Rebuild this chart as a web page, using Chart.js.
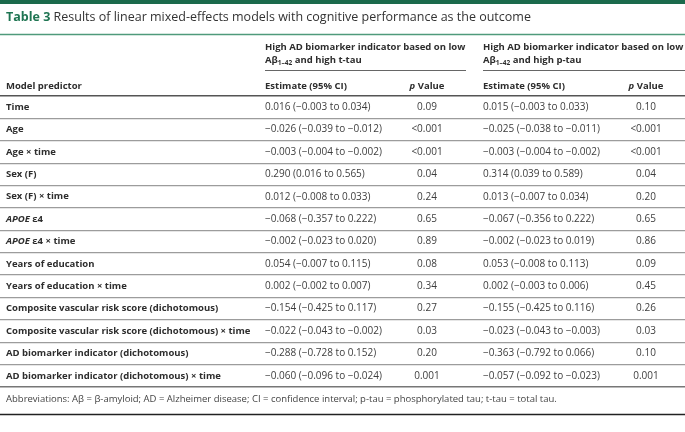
<!DOCTYPE html>
<html><head><meta charset="utf-8">
<script src="https://cdn.jsdelivr.net/npm/chart.js@4.4.0/dist/chart.umd.min.js"></script>
<style>html,body{margin:0;padding:0;background:#fff;}canvas{display:block;}</style>
</head><body>
<canvas id="c" width="685" height="432"></canvas>
<script>
// ---- data ----
const predictors = ["Time","Age","Age × time","Sex (F)","Sex (F) × time","APOE ε4","APOE ε4 × time",
  "Years of education","Years of education × time","Composite vascular risk score (dichotomous)",
  "Composite vascular risk score (dichotomous) × time","AD biomarker indicator (dichotomous)",
  "AD biomarker indicator (dichotomous) × time"];
const est1 = [0.016,-0.026,-0.003,0.290,0.012,-0.068,-0.002,0.054,0.002,-0.154,-0.022,-0.288,-0.060];
const lo1  = [-0.003,-0.039,-0.004,0.016,-0.008,-0.357,-0.023,-0.007,-0.002,-0.425,-0.043,-0.728,-0.096];
const hi1  = [0.034,-0.012,-0.002,0.565,0.033,0.222,0.020,0.115,0.007,0.117,-0.002,0.152,-0.024];
const p1   = ["0.09","<0.001","<0.001","0.04","0.24","0.65","0.89","0.08","0.34","0.27","0.03","0.20","0.001"];
const est2 = [0.015,-0.025,-0.003,0.314,0.013,-0.067,-0.002,0.053,0.002,-0.155,-0.023,-0.363,-0.057];
const lo2  = [-0.003,-0.038,-0.004,0.039,-0.007,-0.356,-0.023,-0.008,-0.003,-0.425,-0.043,-0.792,-0.092];
const hi2  = [0.033,-0.011,-0.002,0.589,0.034,0.222,0.019,0.113,0.006,0.116,-0.003,0.066,-0.023];
const p2   = ["0.10","<0.001","<0.001","0.04","0.20","0.65","0.86","0.09","0.45","0.26","0.03","0.10","0.001"];

const titleBold = "Table 3";
const titleText = " Results of linear mixed-effects models with cognitive performance as the outcome";
const group1 = ["High AD biomarker indicator based on low", "and high t-tau"];
const group2 = ["High AD biomarker indicator based on low", "and high p-tau"];
const colHeads = ["Model predictor", "Estimate (95% CI)", "Value"];
const footnote = "Abbreviations: Aβ = β-amyloid; AD = Alzheimer disease; CI = confidence interval; p-tau = phosphorylated tau; t-tau = total tau.";

// ---- styles / layout ----
const FF = '"Open Sans", sans-serif';
const TXT = '#2d2d2d';
const VAL = '#3d3d3d';
const GREEN = '#1f7552';
const colX = { pred: 6, est1: 265, p1c: 427, est2: 483, p2c: 646 };

function fmt(v){ return (v < 0 ? '\u2212' : '') + Math.abs(v).toFixed(3); }
function ci(e,l,h){ return fmt(e) + ' (' + fmt(l) + ' to ' + fmt(h) + ')'; }

function drawRuns(ctx, runs, x, y){
  let cx = x;
  for (const r of runs){
    ctx.font = r.f; ctx.fillStyle = r.c || TXT;
    ctx.fillText(r.t, cx, y + (r.dy || 0));
    cx += ctx.measureText(r.t).width;
  }
  return cx;
}
function runsWidth(ctx, runs){
  let w = 0; for (const r of runs){ ctx.font = r.f; w += ctx.measureText(r.t).width; } return w;
}
const B = 'bold 9.5px ' + FF;
const BI = 'italic bold 9.5px ' + FF;
const R = '10px ' + FF;

function predRuns(label){
  if (label.startsWith('APOE')) return [{t:'APOE', f:BI}, {t:label.slice(4), f:B}];
  return [{t:label, f:B}];
}

const tablePlugin = {
  id: 'tableText',
  beforeDraw(chart){
    const ctx = chart.ctx; ctx.save(); ctx.fillStyle = '#fff';
    ctx.fillRect(0,0,chart.width,chart.height); ctx.restore();
  },
  afterDraw(chart){
    const ctx = chart.ctx, xs = chart.scales.x, ys = chart.scales.y;
    const W = chart.width, bottom = chart.chartArea.bottom;
    const X = v => xs.getPixelForValue(v);
    ctx.save();
    ctx.textBaseline = 'middle'; ctx.textAlign = 'left';

    // top green bar
    ctx.fillStyle = '#1b6a4c'; ctx.fillRect(0, 0, W, 4);
    // title
    drawRuns(ctx, [{t:titleBold, f:'bold 12.5px ' + FF, c:GREEN}, {t:titleText, f:'12.5px ' + FF, c:'#333'}], X(colX.pred), 17);
    // title rule
    ctx.strokeStyle = '#4f9a7b'; ctx.lineWidth = 1.5;
    ctx.beginPath(); ctx.moveTo(0, 34.5); ctx.lineTo(W, 34.5); ctx.stroke();

    // group headers
    const sub = 'bold 6.5px ' + FF;
    [[group1, colX.est1, 466], [group2, colX.est2, W]].forEach(([g, x0, x1]) => {
      drawRuns(ctx, [{t:g[0], f:B}], X(x0), 47);
      drawRuns(ctx, [{t:'Aβ', f:B}, {t:'1–42', f:sub, dy:2.5}, {t:' ' + g[1], f:B}], X(x0), 60.5);
      ctx.strokeStyle = '#666'; ctx.lineWidth = 1;
      ctx.beginPath(); ctx.moveTo(X(x0), 70.5); ctx.lineTo(X(x1), 70.5); ctx.stroke();
    });

    // column headers
    const hy = 86;
    const pHead = [{t:'p', f:BI}, {t:' ' + colHeads[2], f:B}];
    const pHeadW = runsWidth(ctx, pHead);
    drawRuns(ctx, [{t:colHeads[0], f:B}], X(colX.pred), hy);
    drawRuns(ctx, [{t:colHeads[1], f:B}], X(colX.est1), hy);
    drawRuns(ctx, pHead, X(colX.p1c) - pHeadW / 2, hy);
    drawRuns(ctx, [{t:colHeads[1], f:B}], X(colX.est2), hy);
    drawRuns(ctx, pHead, X(colX.p2c) - pHeadW / 2, hy);

    // body rows
    predictors.forEach((lab, i) => {
      const y = ys.getPixelForValue(i);
      drawRuns(ctx, predRuns(lab), X(colX.pred), y);
      drawRuns(ctx, [{t:ci(est1[i], lo1[i], hi1[i]), f:R, c:VAL}], X(colX.est1), y);
      drawRuns(ctx, [{t:ci(est2[i], lo2[i], hi2[i]), f:R, c:VAL}], X(colX.est2), y);
      [[p1, colX.p1c], [p2, colX.p2c]].forEach(([arr, pc]) => {
        ctx.font = R;
        const w = ctx.measureText(arr[i]).width;
        drawRuns(ctx, [{t:arr[i], f:R, c:VAL}], X(pc) - w / 2, y);
      });
    });

    // footnote
    drawRuns(ctx, [{t:footnote, f:'9.5px ' + FF, c:'#444'}], X(colX.pred), bottom + 12.5);
    // bottom rule
    ctx.strokeStyle = '#222'; ctx.lineWidth = 1.5;
    ctx.beginPath(); ctx.moveTo(0, bottom + 27.5); ctx.lineTo(W, bottom + 27.5); ctx.stroke();
    ctx.restore();
  }
};

new Chart(document.getElementById('c'), {
  type: 'bar',
  data: { labels: predictors, datasets: [] },
  options: {
    indexAxis: 'y',
    responsive: false, animation: false, devicePixelRatio: 1, events: [],
    layout: { padding: { top: 96, bottom: 45, left: 0, right: 0 } },
    plugins: { legend: { display: false }, title: { display: false }, tooltip: { enabled: false } },
    scales: {
      x: { type: 'linear', min: 0, max: 685, display: false },
      y: {
        type: 'category', offset: true, display: true,
        ticks: { display: false }, border: { display: false },
        grid: {
          offset: true, drawTicks: false,
          color: c => (c.type !== 'tick') ? '#777' : (c.index === 0 ? '#555' : '#9c9c9c'),
          lineWidth: c => (c.type !== 'tick' || c.index === 0) ? 1.5 : 1.3
        }
      }
    }
  },
  plugins: [tablePlugin]
});
</script>
</body></html>
